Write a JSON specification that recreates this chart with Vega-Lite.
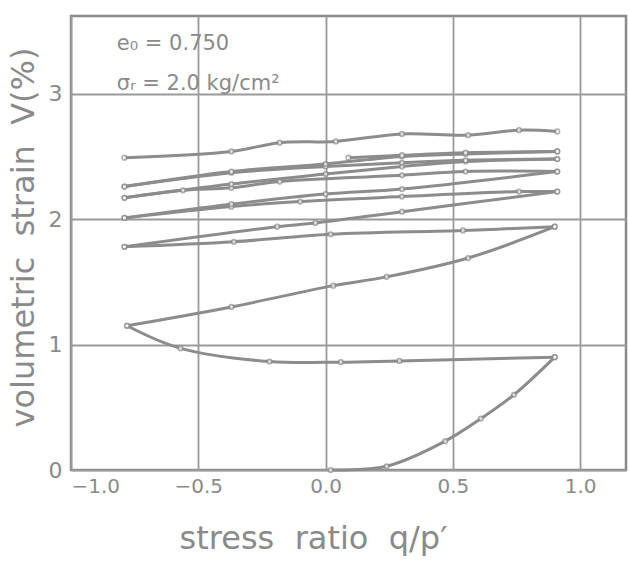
{
  "$schema": "https://vega.github.io/schema/vega-lite/v6.json",
  "width": 555,
  "height": 454,
  "autosize": {"type": "none"},
  "padding": {"left": 71, "top": 16, "right": 3, "bottom": 91},
  "background": "white",
  "config": {
    "view": {"stroke": "#8a8a8a", "strokeWidth": 2.5},
    "font": "DejaVu Sans"
  },
  "datasets": {
    "curves": [
      {"seg": 1, "i": 1, "x": 0.02, "y": 0.0},
      {"seg": 1, "i": 2, "x": 0.24, "y": 0.03},
      {"seg": 1, "i": 3, "x": 0.47, "y": 0.23},
      {"seg": 1, "i": 4, "x": 0.61, "y": 0.41},
      {"seg": 1, "i": 5, "x": 0.74, "y": 0.6},
      {"seg": 1, "i": 6, "x": 0.9, "y": 0.9},
      {"seg": 2, "i": 1, "x": 0.9, "y": 0.9},
      {"seg": 2, "i": 2, "x": 0.29, "y": 0.87},
      {"seg": 2, "i": 3, "x": 0.06, "y": 0.86},
      {"seg": 2, "i": 4, "x": -0.22, "y": 0.865},
      {"seg": 2, "i": 5, "x": -0.57, "y": 0.97},
      {"seg": 2, "i": 6, "x": -0.78, "y": 1.15},
      {"seg": 3, "i": 1, "x": -0.78, "y": 1.15},
      {"seg": 3, "i": 2, "x": -0.37, "y": 1.3},
      {"seg": 3, "i": 3, "x": 0.03, "y": 1.47},
      {"seg": 3, "i": 4, "x": 0.24, "y": 1.54},
      {"seg": 3, "i": 5, "x": 0.56, "y": 1.69},
      {"seg": 3, "i": 6, "x": 0.9, "y": 1.94},
      {"seg": 4, "i": 1, "x": 0.9, "y": 1.94},
      {"seg": 4, "i": 2, "x": 0.54, "y": 1.91},
      {"seg": 4, "i": 3, "x": 0.02, "y": 1.88},
      {"seg": 4, "i": 4, "x": -0.36, "y": 1.82},
      {"seg": 4, "i": 5, "x": -0.79, "y": 1.78},
      {"seg": 5, "i": 1, "x": -0.79, "y": 1.78},
      {"seg": 5, "i": 2, "x": -0.19, "y": 1.94},
      {"seg": 5, "i": 3, "x": -0.04, "y": 1.97},
      {"seg": 5, "i": 4, "x": 0.3, "y": 2.06},
      {"seg": 5, "i": 5, "x": 0.91, "y": 2.22},
      {"seg": 6, "i": 1, "x": 0.91, "y": 2.22},
      {"seg": 6, "i": 2, "x": 0.76, "y": 2.22},
      {"seg": 6, "i": 3, "x": 0.3, "y": 2.18},
      {"seg": 6, "i": 4, "x": -0.1, "y": 2.14},
      {"seg": 6, "i": 5, "x": -0.37, "y": 2.1},
      {"seg": 6, "i": 6, "x": -0.79, "y": 2.01},
      {"seg": 7, "i": 1, "x": -0.79, "y": 2.01},
      {"seg": 7, "i": 2, "x": -0.37, "y": 2.12},
      {"seg": 7, "i": 3, "x": 0.0, "y": 2.2},
      {"seg": 7, "i": 4, "x": 0.3, "y": 2.24},
      {"seg": 7, "i": 5, "x": 0.91, "y": 2.38},
      {"seg": 8, "i": 1, "x": 0.91, "y": 2.38},
      {"seg": 8, "i": 2, "x": 0.55, "y": 2.38},
      {"seg": 8, "i": 3, "x": 0.3, "y": 2.35},
      {"seg": 8, "i": 4, "x": -0.18, "y": 2.3},
      {"seg": 8, "i": 5, "x": -0.37, "y": 2.25},
      {"seg": 8, "i": 6, "x": -0.56, "y": 2.23},
      {"seg": 8, "i": 7, "x": -0.79, "y": 2.17},
      {"seg": 9, "i": 1, "x": -0.79, "y": 2.17},
      {"seg": 9, "i": 2, "x": -0.37, "y": 2.28},
      {"seg": 9, "i": 3, "x": 0.0, "y": 2.36},
      {"seg": 9, "i": 4, "x": 0.3, "y": 2.42},
      {"seg": 9, "i": 5, "x": 0.55, "y": 2.46},
      {"seg": 9, "i": 6, "x": 0.91, "y": 2.48},
      {"seg": 10, "i": 1, "x": 0.91, "y": 2.48},
      {"seg": 10, "i": 2, "x": 0.55, "y": 2.47},
      {"seg": 10, "i": 3, "x": 0.3, "y": 2.45},
      {"seg": 10, "i": 4, "x": 0.0, "y": 2.42},
      {"seg": 10, "i": 5, "x": -0.37, "y": 2.37},
      {"seg": 10, "i": 6, "x": -0.79, "y": 2.26},
      {"seg": 11, "i": 1, "x": -0.79, "y": 2.26},
      {"seg": 11, "i": 2, "x": -0.37, "y": 2.38},
      {"seg": 11, "i": 3, "x": 0.0, "y": 2.44},
      {"seg": 11, "i": 4, "x": 0.3, "y": 2.5},
      {"seg": 11, "i": 5, "x": 0.55, "y": 2.52},
      {"seg": 11, "i": 6, "x": 0.91, "y": 2.54},
      {"seg": 12, "i": 1, "x": 0.91, "y": 2.54},
      {"seg": 12, "i": 2, "x": 0.55, "y": 2.53},
      {"seg": 12, "i": 3, "x": 0.3, "y": 2.51},
      {"seg": 12, "i": 4, "x": 0.09, "y": 2.49},
      {"seg": 13, "i": 1, "x": -0.79, "y": 2.49},
      {"seg": 13, "i": 2, "x": -0.37, "y": 2.54},
      {"seg": 13, "i": 3, "x": -0.18, "y": 2.61},
      {"seg": 13, "i": 4, "x": 0.04, "y": 2.62},
      {"seg": 13, "i": 5, "x": 0.3, "y": 2.68},
      {"seg": 13, "i": 6, "x": 0.56, "y": 2.67},
      {"seg": 13, "i": 7, "x": 0.76, "y": 2.71},
      {"seg": 13, "i": 8, "x": 0.91, "y": 2.7}
    ],
    "notes": [
      {"x": -0.82, "y": 3.4, "label": "e₀ = 0.750"},
      {"x": -0.82, "y": 3.08, "label": "σᵣ = 2.0 kg/cm²"}
    ]
  },
  "layer": [
    {
      "data": {"name": "curves"},
      "mark": {"type": "line", "interpolate": "catmull-rom", "color": "#8c8c8c", "strokeWidth": 3},
      "encoding": {
        "x": {
          "field": "x", "type": "quantitative",
          "scale": {"domain": [-1, 1.18], "nice": false, "zero": false},
          "axis": {
            "values": [-1, -0.5, 0, 0.5, 1], "format": ".1f",
            "grid": true, "gridColor": "#9a9a9a", "gridWidth": 1.8,
            "domain": false, "ticks": false,
            "labelFontSize": 20, "labelColor": "#8a8a8a", "labelPadding": 6,
            "title": "stress\u00a0\u00a0ratio\u00a0\u00a0q/p′", "titleFontSize": 32, "titleFontWeight": "normal",
            "titleColor": "#8a8a8a", "titleX": 242, "titleY": 78, "titleBaseline": "alphabetic"
          }
        },
        "y": {
          "field": "y", "type": "quantitative",
          "scale": {"domain": [0, 3.62], "nice": false, "zero": false},
          "axis": {
            "values": [0, 1, 2, 3], "format": "d",
            "grid": true, "gridColor": "#9a9a9a", "gridWidth": 1.8,
            "domain": false, "ticks": false,
            "labelFontSize": 22, "labelColor": "#8a8a8a", "labelPadding": 9,
            "title": "volumetric\u00a0\u00a0strain\u00a0\u00a0V(%)", "titleFontSize": 32, "titleFontWeight": "normal",
            "titleColor": "#8a8a8a", "titleX": -38, "titleY": 221, "titleBaseline": "alphabetic", "titleAlign": "center"
          }
        },
        "detail": {"field": "seg"},
        "order": {"field": "i"}
      }
    },
    {
      "data": {"name": "curves"},
      "mark": {"type": "point", "shape": "circle", "filled": true, "fill": "white", "stroke": "#8c8c8c", "strokeWidth": 1.5, "size": 22},
      "encoding": {
        "x": {"field": "x", "type": "quantitative"},
        "y": {"field": "y", "type": "quantitative"}
      }
    },
    {
      "data": {"name": "notes"},
      "mark": {"type": "text", "align": "left", "baseline": "middle", "fontSize": 21, "color": "#8a8a8a"},
      "encoding": {
        "x": {"field": "x", "type": "quantitative"},
        "y": {"field": "y", "type": "quantitative"},
        "text": {"field": "label"}
      }
    }
  ]
}
